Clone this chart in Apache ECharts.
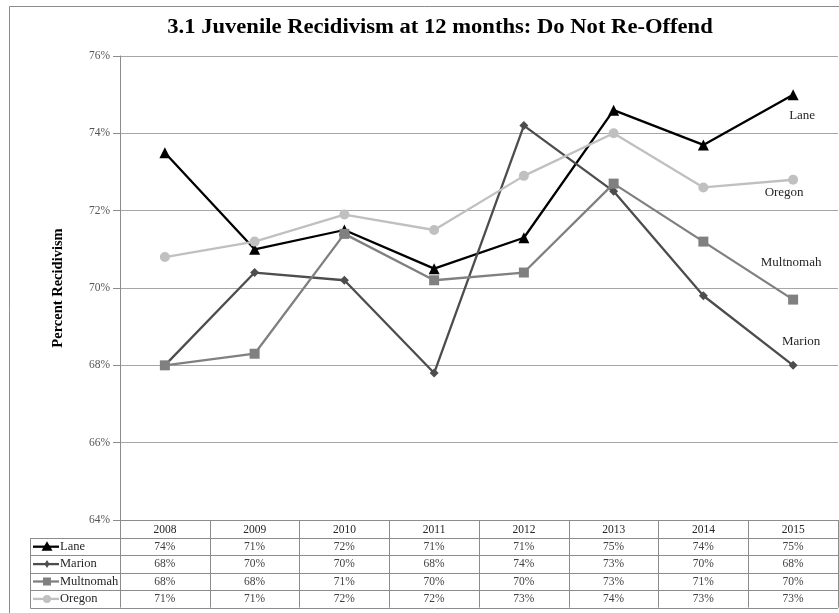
<!DOCTYPE html>
<html><head><meta charset="utf-8">
<script src="https://cdn.jsdelivr.net/npm/echarts@6/dist/echarts.min.js"></script>
<style>html,body{margin:0;padding:0;background:#fff}#c{width:839px;height:613px}</style>
</head><body><div id="c"></div>
<script>
const years = ['2008','2009','2010','2011','2012','2013','2014','2015'];
const seriesNames = ['Lane','Marion','Multnomah','Oregon'];
const lane      = [73.5, 71.0, 71.5, 70.5, 71.3, 74.6, 73.7, 75.0];
const marion    = [68.0, 70.4, 70.2, 67.8, 74.2, 72.5, 69.8, 68.0];
const multnomah = [68.0, 68.3, 71.4, 70.2, 70.4, 72.7, 71.2, 69.7];
const oregon    = [70.8, 71.2, 71.9, 71.5, 72.9, 74.0, 72.6, 72.8];
const yMin = 64, yMax = 76, yStep = 2;
const titleText = '3.1 Juvenile Recidivism at 12 months: Do Not Re-Offend';
const yName = 'Percent Recidivism';

const FONT = '"Liberation Serif", "DejaVu Serif", serif';
const values = [lane, marion, multnomah, oregon];
const colors = ['#000000', '#4d4d4d', '#808080', '#c0c0c0'];
const symbols = ['triangle', 'diamond', 'rect', 'circle'];
const symSizes = [11, 9, 10, 10];
const endOffsets = [[9, 21], [8, -24], [-2, -37], [-9, 13]];

const GRID_L = 120, GRID_T = 56, GRID_B = 520, W = 839, H = 613;
const HEADER_H = 18, ROW_H = 17.4;
const TABLE_BOTTOM = GRID_B + HEADER_H + ROW_H * 4;
const TABLE_L = 30.5;

const chart = echarts.init(document.getElementById('c'), null, {renderer: 'canvas'});

const series = seriesNames.map((name, i) => ({
  name, type: 'line', data: values[i].map((v, j) => j === values[i].length - 1 ? {
    value: v,
    label: {show: true, position: 'inside', offset: endOffsets[i], formatter: name,
      fontFamily: FONT, fontSize: 13, color: '#262626'}
  } : v),
  symbol: symbols[i], symbolSize: symSizes[i], showAllSymbol: true,
  lineStyle: {color: colors[i], width: 2.3},
  itemStyle: {color: colors[i]},
  emphasis: {disabled: true}, animation: false, z: 2 + i
}));

chart.setOption({
  animation: false,
  backgroundColor: '#fff',
  grid: {left: GRID_L, right: 1, top: GRID_T, bottom: H - GRID_B, containLabel: false},
  xAxis: {
    type: 'category', data: years, boundaryGap: true,
    axisLine: {show: true, lineStyle: {color: '#8c8c8c', width: 1}},
    axisTick: {show: true, alignWithLabel: false, inside: false, length: TABLE_BOTTOM - GRID_B,
      lineStyle: {color: '#8c8c8c', width: 1}},
    axisLabel: {show: true, margin: 4, fontFamily: FONT, fontSize: 11.5, color: '#262626', interval: 0},
    splitLine: {show: false}
  },
  yAxis: {
    type: 'value', min: yMin, max: yMax, interval: yStep,
    name: yName, nameLocation: 'middle', nameGap: 54,
    nameTextStyle: {fontFamily: FONT, fontSize: 14.5, fontWeight: 'bold', color: '#000'},
    axisLine: {show: true, lineStyle: {color: '#8c8c8c', width: 1}},
    axisTick: {show: true, length: 7, lineStyle: {color: '#8c8c8c'}},
    axisLabel: {formatter: v => v + '%', fontFamily: FONT, fontSize: 11.5, color: '#555', margin: 10},
    splitLine: {show: true, lineStyle: {color: '#a6a6a6', width: 1}}
  },
  series
});

function buildTable() {
  const g = [];
  g.push({type: 'rect', shape: {x: 9.5, y: 6.5, width: 860, height: 640},
    style: {fill: null, stroke: '#8c8c8c', lineWidth: 1}, silent: true, z: 0});
  g.push({type: 'text', x: 440, y: 28, scaleX: 1.13, style: {text: titleText, textAlign: 'center', textVerticalAlign: 'middle',
    font: 'bold 20px ' + FONT, fill: '#000'}, z: 10});
  const right = W - 1;
  for (let r = 0; r <= 4; r++) {
    const y = Math.round(GRID_B + HEADER_H + r * ROW_H) + 0.5;
    g.push({type: 'line', shape: {x1: TABLE_L, y1: y, x2: right, y2: y},
      style: {stroke: '#8c8c8c', lineWidth: 1}, silent: true, z: 5});
  }
  g.push({type: 'line', shape: {x1: TABLE_L, y1: GRID_B + HEADER_H, x2: TABLE_L, y2: Math.round(TABLE_BOTTOM) + 0.5},
    style: {stroke: '#8c8c8c', lineWidth: 1}, silent: true, z: 5});
  seriesNames.forEach((name, i) => {
    const yc = GRID_B + HEADER_H + (i + 0.5) * ROW_H;
    g.push({type: 'line', shape: {x1: 33, y1: yc, x2: 59, y2: yc},
      style: {stroke: colors[i], lineWidth: 2.3}, silent: true, z: 6});
    const s = i === 0 ? 9 : (i === 1 ? 7 : 8);
    let shape;
    if (symbols[i] === 'triangle') {
      shape = {type: 'polygon', shape: {points: [[47, yc - s / 2 - 1], [47 + s / 2 + 1, yc + s / 2 - 0.5], [47 - s / 2 - 1, yc + s / 2 - 0.5]]}};
    } else if (symbols[i] === 'diamond') {
      shape = {type: 'polygon', shape: {points: [[47, yc - s / 2 - 0.5], [47 + s / 2 - 1, yc], [47, yc + s / 2 + 0.5], [47 - s / 2 + 1, yc]]}};
    } else if (symbols[i] === 'rect') {
      shape = {type: 'rect', shape: {x: 47 - s / 2, y: yc - s / 2, width: s, height: s}};
    } else {
      shape = {type: 'circle', shape: {cx: 47, cy: yc, r: s / 2}};
    }
    shape.style = {fill: colors[i]}; shape.silent = true; shape.z = 7;
    g.push(shape);
    g.push({type: 'text', x: 60, y: yc, style: {text: name, textAlign: 'left', textVerticalAlign: 'middle',
      font: '12.5px ' + FONT, fill: '#262626'}, z: 7});
    years.forEach((yr, j) => {
      const x = chart.convertToPixel({xAxisIndex: 0}, yr);
      g.push({type: 'text', x: x, y: yc, style: {text: Math.round(values[i][j]) + '%', textAlign: 'center',
        textVerticalAlign: 'middle', font: '11.5px ' + FONT, fill: '#404040'}, z: 7});
    });
  });
  chart.setOption({graphic: {elements: g}});
}
buildTable();
</script>
</body></html>
